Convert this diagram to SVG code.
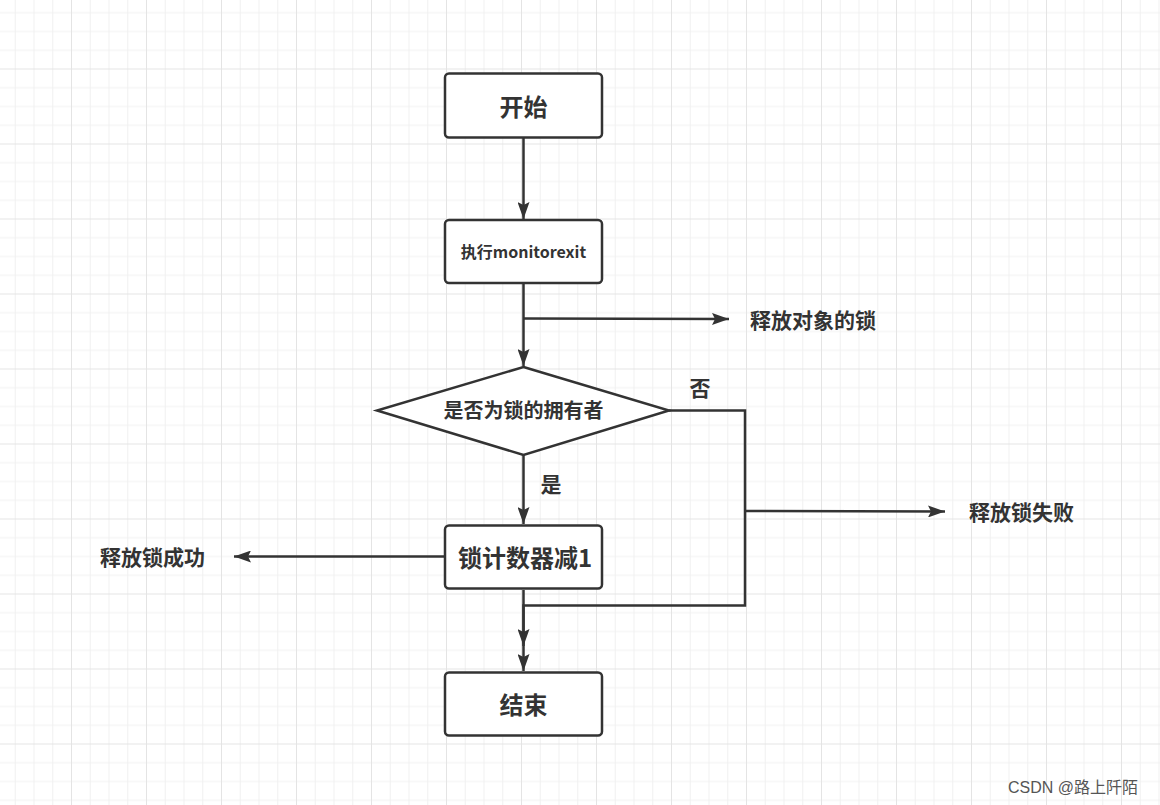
<svg xmlns="http://www.w3.org/2000/svg" width="1160" height="805" viewBox="0 0 1160 805">
<style>
.node{fill:#fff;stroke:#333;stroke-width:2.5}
.t{font-family:"Noto Sans CJK SC","Noto Sans",sans-serif;font-weight:bold;fill:#333;dominant-baseline:central}
.c{text-anchor:middle}
.edge{fill:none;stroke:#333;stroke-width:2.5}
.wm{font-family:"Liberation Sans","Noto Sans CJK SC",sans-serif;font-size:16px;fill:#555}
</style>
<defs>
<pattern id="grid" patternUnits="userSpaceOnUse" x="71" y="68.5" width="75" height="75">
<rect x="0" y="0" width="75" height="75" fill="#fff"/>
<rect x="18.75" y="0" width="1" height="75" fill="#f1f1f1"/>
<rect x="37.5" y="0" width="1" height="75" fill="#f1f1f1"/>
<rect x="56.25" y="0" width="1" height="75" fill="#f1f1f1"/>
<rect x="0" y="18.75" width="75" height="1" fill="#f1f1f1"/>
<rect x="0" y="37.5" width="75" height="1" fill="#f1f1f1"/>
<rect x="0" y="56.25" width="75" height="1" fill="#f1f1f1"/>
<rect x="0" y="0" width="1" height="75" fill="#e4e4e4"/>
<rect x="0" y="0" width="75" height="1" fill="#e4e4e4"/>
</pattern>
<marker id="arr" markerUnits="userSpaceOnUse" markerWidth="18" markerHeight="12" refX="17" refY="6" orient="auto">
<path d="M0,0 L17,6 L0,12 L3,6 Z" fill="#333"/>
</marker>
</defs>
<rect x="0" y="0" width="1160" height="805" fill="url(#grid)"/>

<g id="edges">
<path class="edge" d="M523.5,138 L523.5,219" marker-end="url(#arr)"/>
<path class="edge" d="M523.5,284 L523.5,366" marker-end="url(#arr)"/>
<path class="edge" d="M523.5,318.5 L729,319" marker-end="url(#arr)"/>
<path class="edge" d="M523.5,455 L523.5,524" marker-end="url(#arr)"/>
<path class="edge" d="M669,410.5 L745,410.5 L745,605.5 L523.5,605.5 L523.5,646" marker-end="url(#arr)"/>
<path class="edge" d="M745,511 L945,511.5" marker-end="url(#arr)"/>
<path class="edge" d="M445,556.5 L234,556.5" marker-end="url(#arr)"/>
<path class="edge" d="M523.5,590 L523.5,671" marker-end="url(#arr)"/>
</g>

<g id="start">
<rect class="node" x="445" y="73.5" width="157" height="64" rx="4"/>
<text class="t c" x="523.5" y="105" font-size="24">开始</text>
</g>
<g id="exec">
<rect class="node" x="445" y="220" width="157" height="63" rx="4"/>
<text class="t c" x="523.5" y="251" font-size="16">执行monitorexit</text>
</g>
<g id="label-release-obj">
<text class="t" x="750" y="319" font-size="21">释放对象的锁</text>
</g>
<g id="decision">
<path class="node" d="M523.5,367 L669,410.5 L523.5,455 L377,410.5 Z"/>
<text class="t c" x="523.5" y="409.5" font-size="20">是否为锁的拥有者</text>
</g>
<g id="label-no">
<text class="t c" x="700" y="387" font-size="21">否</text>
</g>
<g id="label-yes">
<text class="t c" x="551" y="483" font-size="21">是</text>
</g>
<g id="label-fail">
<text class="t" x="969" y="511" font-size="21">释放锁失败</text>
</g>
<g id="decrement">
<rect class="node" x="445" y="525.5" width="157" height="63" rx="4"/>
<text class="t c" x="525" y="556" font-size="24">锁计数器减1</text>
</g>
<g id="label-success">
<text class="t" x="100" y="556" font-size="21">释放锁成功</text>
</g>
<g id="end">
<rect class="node" x="445" y="672.5" width="157" height="63" rx="4"/>
<text class="t c" x="523.5" y="703" font-size="24">结束</text>
</g>
<text class="wm" x="1008" y="793">CSDN @路上阡陌</text>
</svg>
